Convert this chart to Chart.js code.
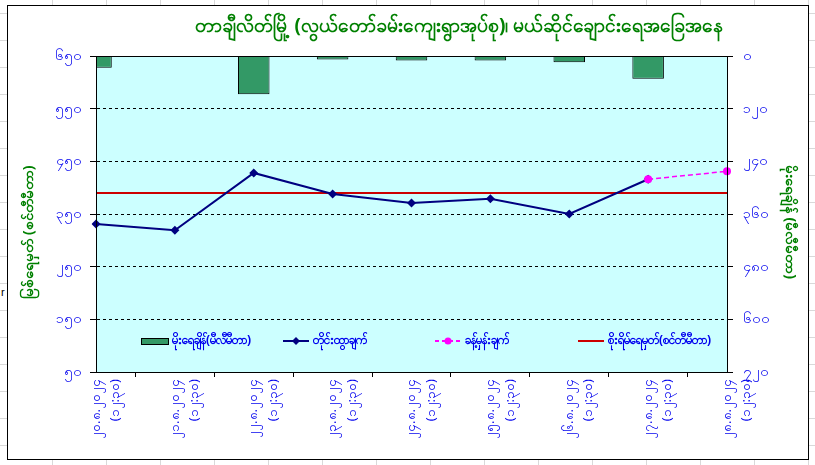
<!DOCTYPE html>
<html>
<head>
<meta charset="utf-8">
<title>Mae Sai water level</title>
<script src="https://cdn.jsdelivr.net/npm/chart.js@4.4.1/dist/chart.umd.min.js"></script>
<style>
    html, body { margin: 0; padding: 0; }
    body {
        width: 815px;
        height: 465px;
        overflow: hidden;
        position: relative;
        background-color: #fff;
        background-image:
            linear-gradient(to right, #d9d9d9 1px, transparent 1px),
            linear-gradient(to bottom, #d9d9d9 1px, transparent 1px);
        background-size: 54px 27px;
        background-position: -2px 13px;
    }
    #box {
        position: absolute;
        left: 7px;
        top: 5px;
        width: 800px;
        height: 453px;
        border: 1px solid #000;
        background: #fff;
    }
    #stray {
        position: absolute;
        left: 1px;
        top: 286px;
        font: 11px Arial, sans-serif;
    }
</style>
</head>
<body>
<span id="stray">r</span>
<div id="box"><canvas id="waterChart" width="800" height="453"></canvas></div>

<script>
// --- data ---
const chartTitle = "တာချီလိတ်မြို့ (လွယ်တော်ခမ်းကျေးရွာအုပ်စု)၊ မယ်ဆိုင်ချောင်းရေအခြေအနေ";

const dateLabels = [
    "၂၀.၈.၂၀၂၄", "၂၁.၈.၂၀၂၄", "၂၂.၈.၂၀၂၄", "၂၃.၈.၂၀၂၄", "၂၄.၈.၂၀၂၄",
    "၂၅.၈.၂၀၂၄", "၂၆.၈.၂၀၂၄", "၂၇.၈.၂၀၂၄", "၂၈.၈.၂၀၂၄"
];
const timeLabels = [
    "(၁၂:၃၀)", "(၁၂:၃၀)", "(၁၂:၃၀)", "(၁၂:၃၀)", "(၁၂:၃၀)",
    "(၁၂:၃၀)", "(၁၂:၃၀)", "(၁၂:၃၀)", "(၁၂:၃၀)"
];

// rainfall (mm), right axis, hanging from the top
const rainfall = [27, 2, 87, 8, 10, 10, 14, 52, null];
// observed water level (cm), left axis
const waterLevel = [331, 319, 428, 388, 371, 379, 350, 416, null];
// forecast (cm)
const forecastLevel = [null, null, null, null, null, null, null, 416, 431];
// danger level (cm)
const dangerLevel = [390, 390, 390, 390, 390, 390, 390, 390, 390];

const levelTickValues = [50, 150, 250, 350, 450, 550, 650];
const levelTickLabels = ["၅၀", "၁၅၀", "၂၅၀", "၃၅၀", "၄၅၀", "၅၅၀", "၆၅၀"];
const rainTickValues = [0, 120, 240, 360, 480, 600, 720];
const rainTickLabels = ["၀", "၁၂၀", "၂၄၀", "၃၆၀", "၄၈၀", "၆၀၀", "၇၂၀"];

const legendLabels = [
    "မိုးရေချိန်(မီလီမီတာ)",
    "တိုင်းထွာချက်",
    "ခန့်မှန်းချက်",
    "စိုးရိမ်ရေမှတ်(စင်တီမီတာ)"
];

const levelAxisTitle = "မြစ်ရေမှတ် (စင်တီမီတာ)";
const rainAxisTitle = "မိုးရေချိန် (မီလီမီတာ)";

// --- colours ---
const green = "#008000";
const blue = "#0000ee";
const barGreen = "#339966";
const navy = "#000080";
const magenta = "#ff00ff";
const red = "#cc0000";

const fontFamily = '"Noto Sans", "DejaVu Sans", sans-serif';
Chart.defaults.font.family = fontFamily;

// chart title and the two axis titles, placed where excel put them
const titles = {
    id: "titles",
    afterDraw(chart) {
        const ctx = chart.ctx;
        ctx.save();
        ctx.fillStyle = green;
        ctx.textAlign = "center";
        ctx.textBaseline = "middle";

        ctx.font = "bold 19px " + fontFamily;
        ctx.fillText(chartTitle, 451, 21);

        ctx.font = "bold 14px " + fontFamily;
        ctx.save();
        ctx.translate(21, 226);
        ctx.rotate(-Math.PI / 2);
        ctx.fillText(levelAxisTitle, 0, 0);
        ctx.restore();

        ctx.save();
        ctx.translate(782, 216);
        ctx.rotate(Math.PI / 2);
        ctx.fillText(rainAxisTitle, 0, 0);
        ctx.restore();

        ctx.restore();
    }
};

const plotArea = {
    id: "plotArea",
    beforeDraw(chart) {
        const { ctx, chartArea: a } = chart;
        ctx.save();
        ctx.fillStyle = "#ccffff";
        ctx.fillRect(a.left, a.top, a.right - a.left, a.bottom - a.top);
        ctx.restore();
    },
    afterDatasetsDraw(chart) {
        const { ctx, chartArea: a } = chart;
        ctx.save();
        ctx.strokeStyle = "#000";
        ctx.lineWidth = 1;
        ctx.strokeRect(Math.round(a.left) + 0.5, Math.round(a.top) + 0.5,
            Math.round(a.right - a.left), Math.round(a.bottom - a.top));
        ctx.restore();
    }
};

// legend sits inside the plot, like the excel one
const insideLegend = {
    id: "insideLegend",
    afterDraw(chart) {
        const ctx = chart.ctx;
        const y = 335;
        const xs = [133, 275, 427, 570];
        ctx.save();
        ctx.font = "bold 12px " + fontFamily;
        ctx.textBaseline = "middle";
        ctx.textAlign = "left";

        // bar swatch
        ctx.fillStyle = barGreen;
        ctx.fillRect(xs[0], y - 3, 27, 6);
        ctx.strokeStyle = "#000";
        ctx.lineWidth = 1;
        ctx.strokeRect(xs[0] + 0.5, y - 3 + 0.5, 27, 6);

        // observed line
        ctx.strokeStyle = navy;
        ctx.lineWidth = 2;
        ctx.beginPath();
        ctx.moveTo(xs[1], y);
        ctx.lineTo(xs[1] + 26, y);
        ctx.stroke();
        ctx.fillStyle = navy;
        ctx.beginPath();
        ctx.moveTo(xs[1] + 13, y - 4);
        ctx.lineTo(xs[1] + 17, y);
        ctx.lineTo(xs[1] + 13, y + 4);
        ctx.lineTo(xs[1] + 9, y);
        ctx.closePath();
        ctx.fill();

        // forecast line
        ctx.strokeStyle = magenta;
        ctx.setLineDash([4, 3]);
        ctx.beginPath();
        ctx.moveTo(xs[2], y);
        ctx.lineTo(xs[2] + 26, y);
        ctx.stroke();
        ctx.setLineDash([]);
        ctx.fillStyle = magenta;
        ctx.beginPath();
        ctx.arc(xs[2] + 13, y, 3.5, 0, Math.PI * 2);
        ctx.fill();

        // danger level
        ctx.strokeStyle = red;
        ctx.beginPath();
        ctx.moveTo(xs[3], y);
        ctx.lineTo(xs[3] + 26, y);
        ctx.stroke();

        ctx.fillStyle = blue;
        ctx.fillText(legendLabels[0], xs[0] + 31, y);
        ctx.fillText(legendLabels[1], xs[1] + 30, y);
        ctx.fillText(legendLabels[2], xs[2] + 30, y);
        ctx.fillText(legendLabels[3], xs[3] + 30, y);
        ctx.restore();
    }
};

new Chart(document.getElementById("waterChart"), {
    data: {
        labels: dateLabels.map((d, i) => [d, timeLabels[i]]),
        datasets: [
            {
                type: "line",
                label: legendLabels[1],
                data: waterLevel,
                yAxisID: "yLevel",
                borderColor: navy,
                backgroundColor: navy,
                borderWidth: 2,
                pointStyle: "rectRot",
                pointRadius: 4.5,
                pointBorderWidth: 0,
                order: 2
            },
            {
                type: "line",
                label: legendLabels[2],
                data: forecastLevel,
                yAxisID: "yLevel",
                borderColor: magenta,
                backgroundColor: magenta,
                borderWidth: 1.5,
                borderDash: [5, 3],
                pointStyle: "circle",
                pointRadius: 4,
                pointBorderWidth: 0,
                order: 1
            },
            {
                type: "line",
                label: legendLabels[3],
                data: dangerLevel,
                yAxisID: "yLevel",
                borderColor: red,
                borderWidth: 2,
                pointRadius: 0,
                order: 3
            },
            {
                type: "bar",
                label: legendLabels[0],
                data: rainfall,
                yAxisID: "yRain",
                backgroundColor: barGreen,
                borderColor: "#000",
                borderWidth: 1,
                barPercentage: 0.8,
                categoryPercentage: 0.5,
                clip: 0,
                order: 4
            }
        ]
    },
    options: {
        responsive: false,
        animation: false,
        layout: {
            padding: { top: 50, left: 0, right: 0, bottom: 0 }
        },
        plugins: {
            legend: { display: false },
            title: { display: false },
            tooltip: { enabled: false }
        },
        scales: {
            x: {
                type: "category",
                offset: false,
                grid: {
                    drawOnChartArea: false,
                    drawTicks: true,
                    tickLength: 5,
                    tickColor: "#000"
                },
                border: { display: true, color: "#000" },
                ticks: {
                    color: blue,
                    font: { size: 13, lineHeight: 1.5 },
                    minRotation: 90,
                    maxRotation: 90,
                    autoSkip: false,
                    padding: 2
                },
                afterFit(scale) {
                    scale.height = 87;
                }
            },
            yLevel: {
                type: "linear",
                position: "left",
                min: 50,
                max: 650,
                grid: {
                    color: "#000",
                    tickLength: 6,
                    tickColor: "#000",
                    tickBorderDash: []
                },
                border: { display: true, color: "#000", dash: [3, 3] },
                ticks: {
                    stepSize: 100,
                    color: blue,
                    font: { size: 14 },
                    padding: 8,
                    callback: (value) => levelTickLabels[levelTickValues.indexOf(value)]
                },
                afterFit(scale) {
                    scale.width = 88;
                }
            },
            yRain: {
                type: "linear",
                position: "right",
                reverse: true,
                min: 0,
                max: 720,
                grid: {
                    drawOnChartArea: false,
                    tickLength: 6,
                    tickColor: "#000"
                },
                border: { display: true, color: "#000" },
                ticks: {
                    stepSize: 120,
                    color: blue,
                    font: { size: 14 },
                    padding: 10,
                    callback: (value) => rainTickLabels[rainTickValues.indexOf(value)]
                },
                afterFit(scale) {
                    scale.width = 81;
                }
            }
        }
    },
    plugins: [plotArea, titles, insideLegend]
});
</script>
</body>
</html>
